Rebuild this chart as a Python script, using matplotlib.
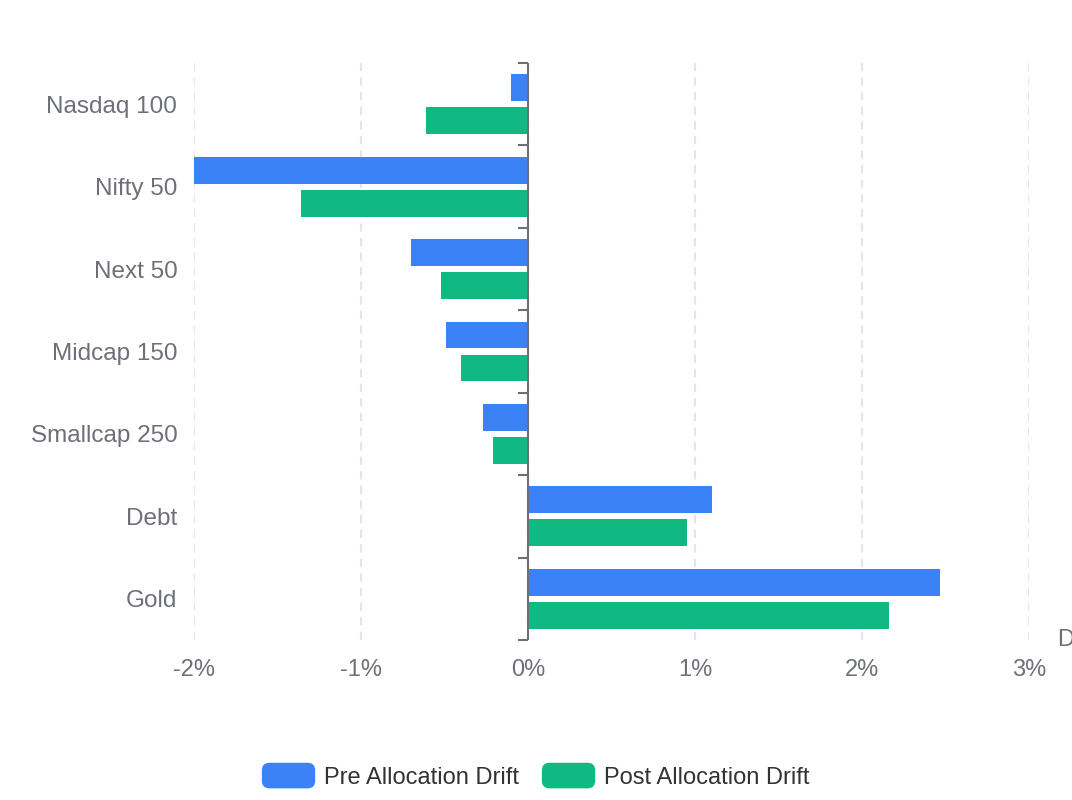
import matplotlib
matplotlib.use("Agg")
import matplotlib.pyplot as plt
from matplotlib.patches import Patch, FancyBboxPatch
from matplotlib.legend_handler import HandlerPatch
import numpy as np

categories = ["Nasdaq 100", "Nifty 50", "Next 50", "Midcap 150", "Smallcap 250", "Debt", "Gold"]
pre_drift = [-0.10, -2.00, -0.70, -0.49, -0.27, 1.10, 2.47]
post_drift = [-0.61, -1.36, -0.52, -0.40, -0.21, 0.95, 2.16]
x_ticks = [-2, -1, 0, 1, 2, 3]
series_names = ["Pre Allocation Drift", "Post Allocation Drift"]
colors = ["#3B82F6", "#10B981"]
axis_name = "Drift (%)"

plt.rcParams['font.family'] = ['Liberation Sans', 'DejaVu Sans']

W, H = 1072, 800
fig = plt.figure(figsize=(W / 100, H / 100), dpi=100)
ax = fig.add_axes([194 / W, (H - 640) / H, (1029 - 194) / W, (640 - 63) / H])

y = np.arange(len(categories))
bh = 0.325
off = 0.2
ax.barh(y - off, pre_drift, height=bh, color=colors[0], zorder=3)
ax.barh(y + off, post_drift, height=bh, color=colors[1], zorder=3)

ax.set_xlim(-2, 3)
ax.set_ylim(len(categories) - 0.5, -0.5)

for s in ax.spines.values():
    s.set_visible(False)

ax.set_xticks(x_ticks)
ax.set_xticklabels([f"{t}%" for t in x_ticks])
ax.tick_params(axis='x', length=0, pad=14, labelsize=17, labelcolor="#6E7079")
ax.set_yticks(y)
ax.set_yticklabels(categories)
ax.tick_params(axis='y', length=0, pad=12, labelsize=17.5, labelcolor="#6E7079")

ax.grid(axis='x', color="#E0E6F1", linestyle=(0, (4, 3)), linewidth=1.5, zorder=0)
ax.grid(axis='y', visible=False)

# y axis line at zero with boundary ticks
ax.axvline(0, color="#6E7079", linewidth=1.5, zorder=5)
sec = ax.secondary_yaxis(0, transform=ax.transData)
sec.spines['left'].set_visible(False)
sec.set_yticks(np.arange(len(categories) + 1) - 0.5)
sec.set_yticklabels([])
sec.tick_params(axis='y', length=7, width=1.5, color="#6E7079", direction='out')

fig.text(1058 / W, 1 - 640 / H, axis_name, ha='left', va='center', fontsize=17, color="#6E7079")


def rounded(legend, orig_handle, xdescent, ydescent, width, height, fontsize):
    return FancyBboxPatch((-xdescent, -ydescent), width, height,
                          boxstyle="round,pad=0,rounding_size=5")


handles = [Patch(color=c, label=n) for c, n in zip(colors, series_names)]
fig.legend(handles=handles, loc='center', bbox_to_anchor=(536 / W, 1 - 776 / H), ncol=2,
           frameon=False, fontsize=17, handlelength=2.2, handleheight=1.2,
           handletextpad=0.4, columnspacing=1.0, labelcolor="#333333",
           handler_map={Patch: HandlerPatch(patch_func=rounded)})

fig.savefig("out.png", dpi=100)
